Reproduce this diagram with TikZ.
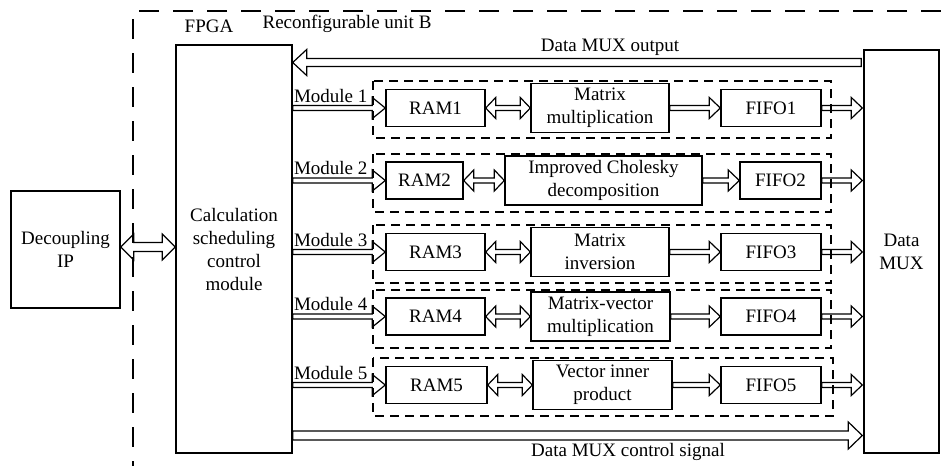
\documentclass[tikz,border=0pt]{standalone}
\usepackage{fontspec}
\setmainfont{Liberation Serif}
\usetikzlibrary{calc}
\tikzset{
  box/.style={draw, line width=1.4pt, inner sep=0pt, align=center, font=\fontsize{19}{23}\selectfont},
  dbox/.style={draw, line width=1.2pt, dash pattern=on 9pt off 6pt},
  lbl/.style={inner sep=0pt, font=\fontsize{19}{23}\selectfont},
  arrline/.style={line width=1.2pt, line join=miter},
}
% single-headed hollow block arrow: #1 start, #2 tip, #3 shaft half width, #4 head half width, #5 head length
\newcommand\blkarrow[5]{%
  \draw[arrline] let \p1=(#1), \p2=(#2), \n1={sign(\x2-\x1)} in
      (\x1,\y1+#3) -- (\x2-\n1*#5,\y2+#3) -- (\x2-\n1*#5,\y2+#4) -- (\x2,\y2)
      -- (\x2-\n1*#5,\y2-#4) -- (\x2-\n1*#5,\y2-#3) -- (\x1,\y1-#3) -- cycle;}
% double-headed hollow block arrow
\newcommand\blkdarrow[5]{%
  \draw[arrline] let \p1=(#1), \p2=(#2), \n1={sign(\x2-\x1)} in
      (\x1,\y1) -- (\x1+\n1*#5,\y1+#4) -- (\x1+\n1*#5,\y1+#3)
      -- (\x2-\n1*#5,\y2+#3) -- (\x2-\n1*#5,\y2+#4) -- (\x2,\y2)
      -- (\x2-\n1*#5,\y2-#4) -- (\x2-\n1*#5,\y2-#3)
      -- (\x1+\n1*#5,\y1-#3) -- (\x1+\n1*#5,\y1-#4) -- cycle;}
\begin{document}
\begin{tikzpicture}[x=1pt,y=-1pt]
\useasboundingbox (0,0) rectangle (941,466);
% outer FPGA dashed frame (cropped)
\draw[line width=1.3pt, dash pattern=on 20pt off 14pt] (941,11) -- (133,11) -- (133,466);
\node[lbl] (fpga) at (209,26) {FPGA};
\node[lbl] (unitb) at (347,24) {Reconfigurable unit B};

% main boxes
\node[box, minimum width=109pt, minimum height=117pt] (dec) at (65.5,249.5) {Decoupling\\IP};
\node[box, minimum width=116pt, minimum height=408pt] (calc) at (234,249) {Calculation\\scheduling\\control\\module};
\node[box, minimum width=75pt, minimum height=403pt] (mux) at (901.5,251.5) {Data\\MUX};

% dashed module frames
\draw[dbox] (373,81) rectangle (831,138);
\draw[dbox] (373,154) rectangle (831,212);
\draw[dbox] (373,225) rectangle (831,283);
\draw[dbox] (373,290) rectangle (831,348);
\draw[dbox] (373,358) rectangle (833,416);

% row 1
\node[box, minimum width=99pt, minimum height=37pt] (ram1) at (435.5,108) {RAM1};
\node[box, minimum width=138pt, minimum height=49pt] (op1) at (600,108) {Matrix\\multiplication};
\node[box, minimum width=100pt, minimum height=37pt] (fifo1) at (771,108) {FIFO1};
% row 2
\node[box, minimum width=77pt, minimum height=37pt] (ram2) at (424.5,180.5) {RAM2};
\node[box, minimum width=197pt, minimum height=49pt] (op2) at (603.5,180.5) {Improved Cholesky\\decomposition};
\node[box, minimum width=81pt, minimum height=37pt] (fifo2) at (780.5,180.5) {FIFO2};
% row 3
\node[box, minimum width=99pt, minimum height=37pt] (ram3) at (435.5,252) {RAM3};
\node[box, minimum width=138pt, minimum height=49pt] (op3) at (600,252) {Matrix\\inversion};
\node[box, minimum width=100pt, minimum height=37pt] (fifo3) at (771,252) {FIFO3};
% row 4
\node[box, minimum width=99pt, minimum height=37pt] (ram4) at (435.5,316.5) {RAM4};
\node[box, minimum width=139pt, minimum height=49pt] (op4) at (600.5,316.5) {Matrix-vector\\multiplication};
\node[box, minimum width=100pt, minimum height=37pt] (fifo4) at (771,316.5) {FIFO4};
% row 5
\node[box, minimum width=101pt, minimum height=37pt] (ram5) at (436.5,385) {RAM5};
\node[box, minimum width=139pt, minimum height=49pt] (op5) at (602.5,385) {Vector inner\\product};
\node[box, minimum width=100pt, minimum height=37pt] (fifo5) at (771,385) {FIFO5};

% decoupling <-> calc
\coordinate (decy) at (0,247);
\blkdarrow{dec.east |- decy}{calc.west |- decy}{4.5pt}{13pt}{13pt}

% Data MUX output
\coordinate (outy) at (0,62.5);
\coordinate (outs) at ($(mux.west |- outy)+(-2,0)$);
\blkarrow{outs}{calc.east |- outy}{4pt}{13pt}{14pt}
\node[lbl] (outl) at (610,47) {Data MUX output};

% Data MUX control signal
\coordinate (ctly) at (0,435.5);
\coordinate (ctle) at ($(mux.west |- ctly)+(-1,0)$);
\blkarrow{calc.east |- ctly}{ctle}{4.5pt}{13.5pt}{14pt}
\node[lbl] (ctll) at (628,452) {Data MUX control signal};

% module arrows and labels
\foreach \i in {1,...,5}{
  \blkarrow{calc.east |- ram\i.west}{ram\i.west}{2.5pt}{10.5pt}{13pt}
  \node[lbl, anchor=base] (mlab\i) at ($(calc.east |- ram\i.west)+(38,-6)$) {Module \i};
  \blkdarrow{ram\i.east}{op\i.west |- ram\i.east}{2.5pt}{10.5pt}{10pt}
  \blkarrow{op\i.east |- fifo\i.west}{fifo\i.west}{2.5pt}{10.5pt}{11pt}
  \coordinate (me\i) at ($(mux.west |- fifo\i.east)+(-1,0)$);
  \blkarrow{fifo\i.east}{me\i}{2.5pt}{10.5pt}{11pt}
}
\end{tikzpicture}
\end{document}
